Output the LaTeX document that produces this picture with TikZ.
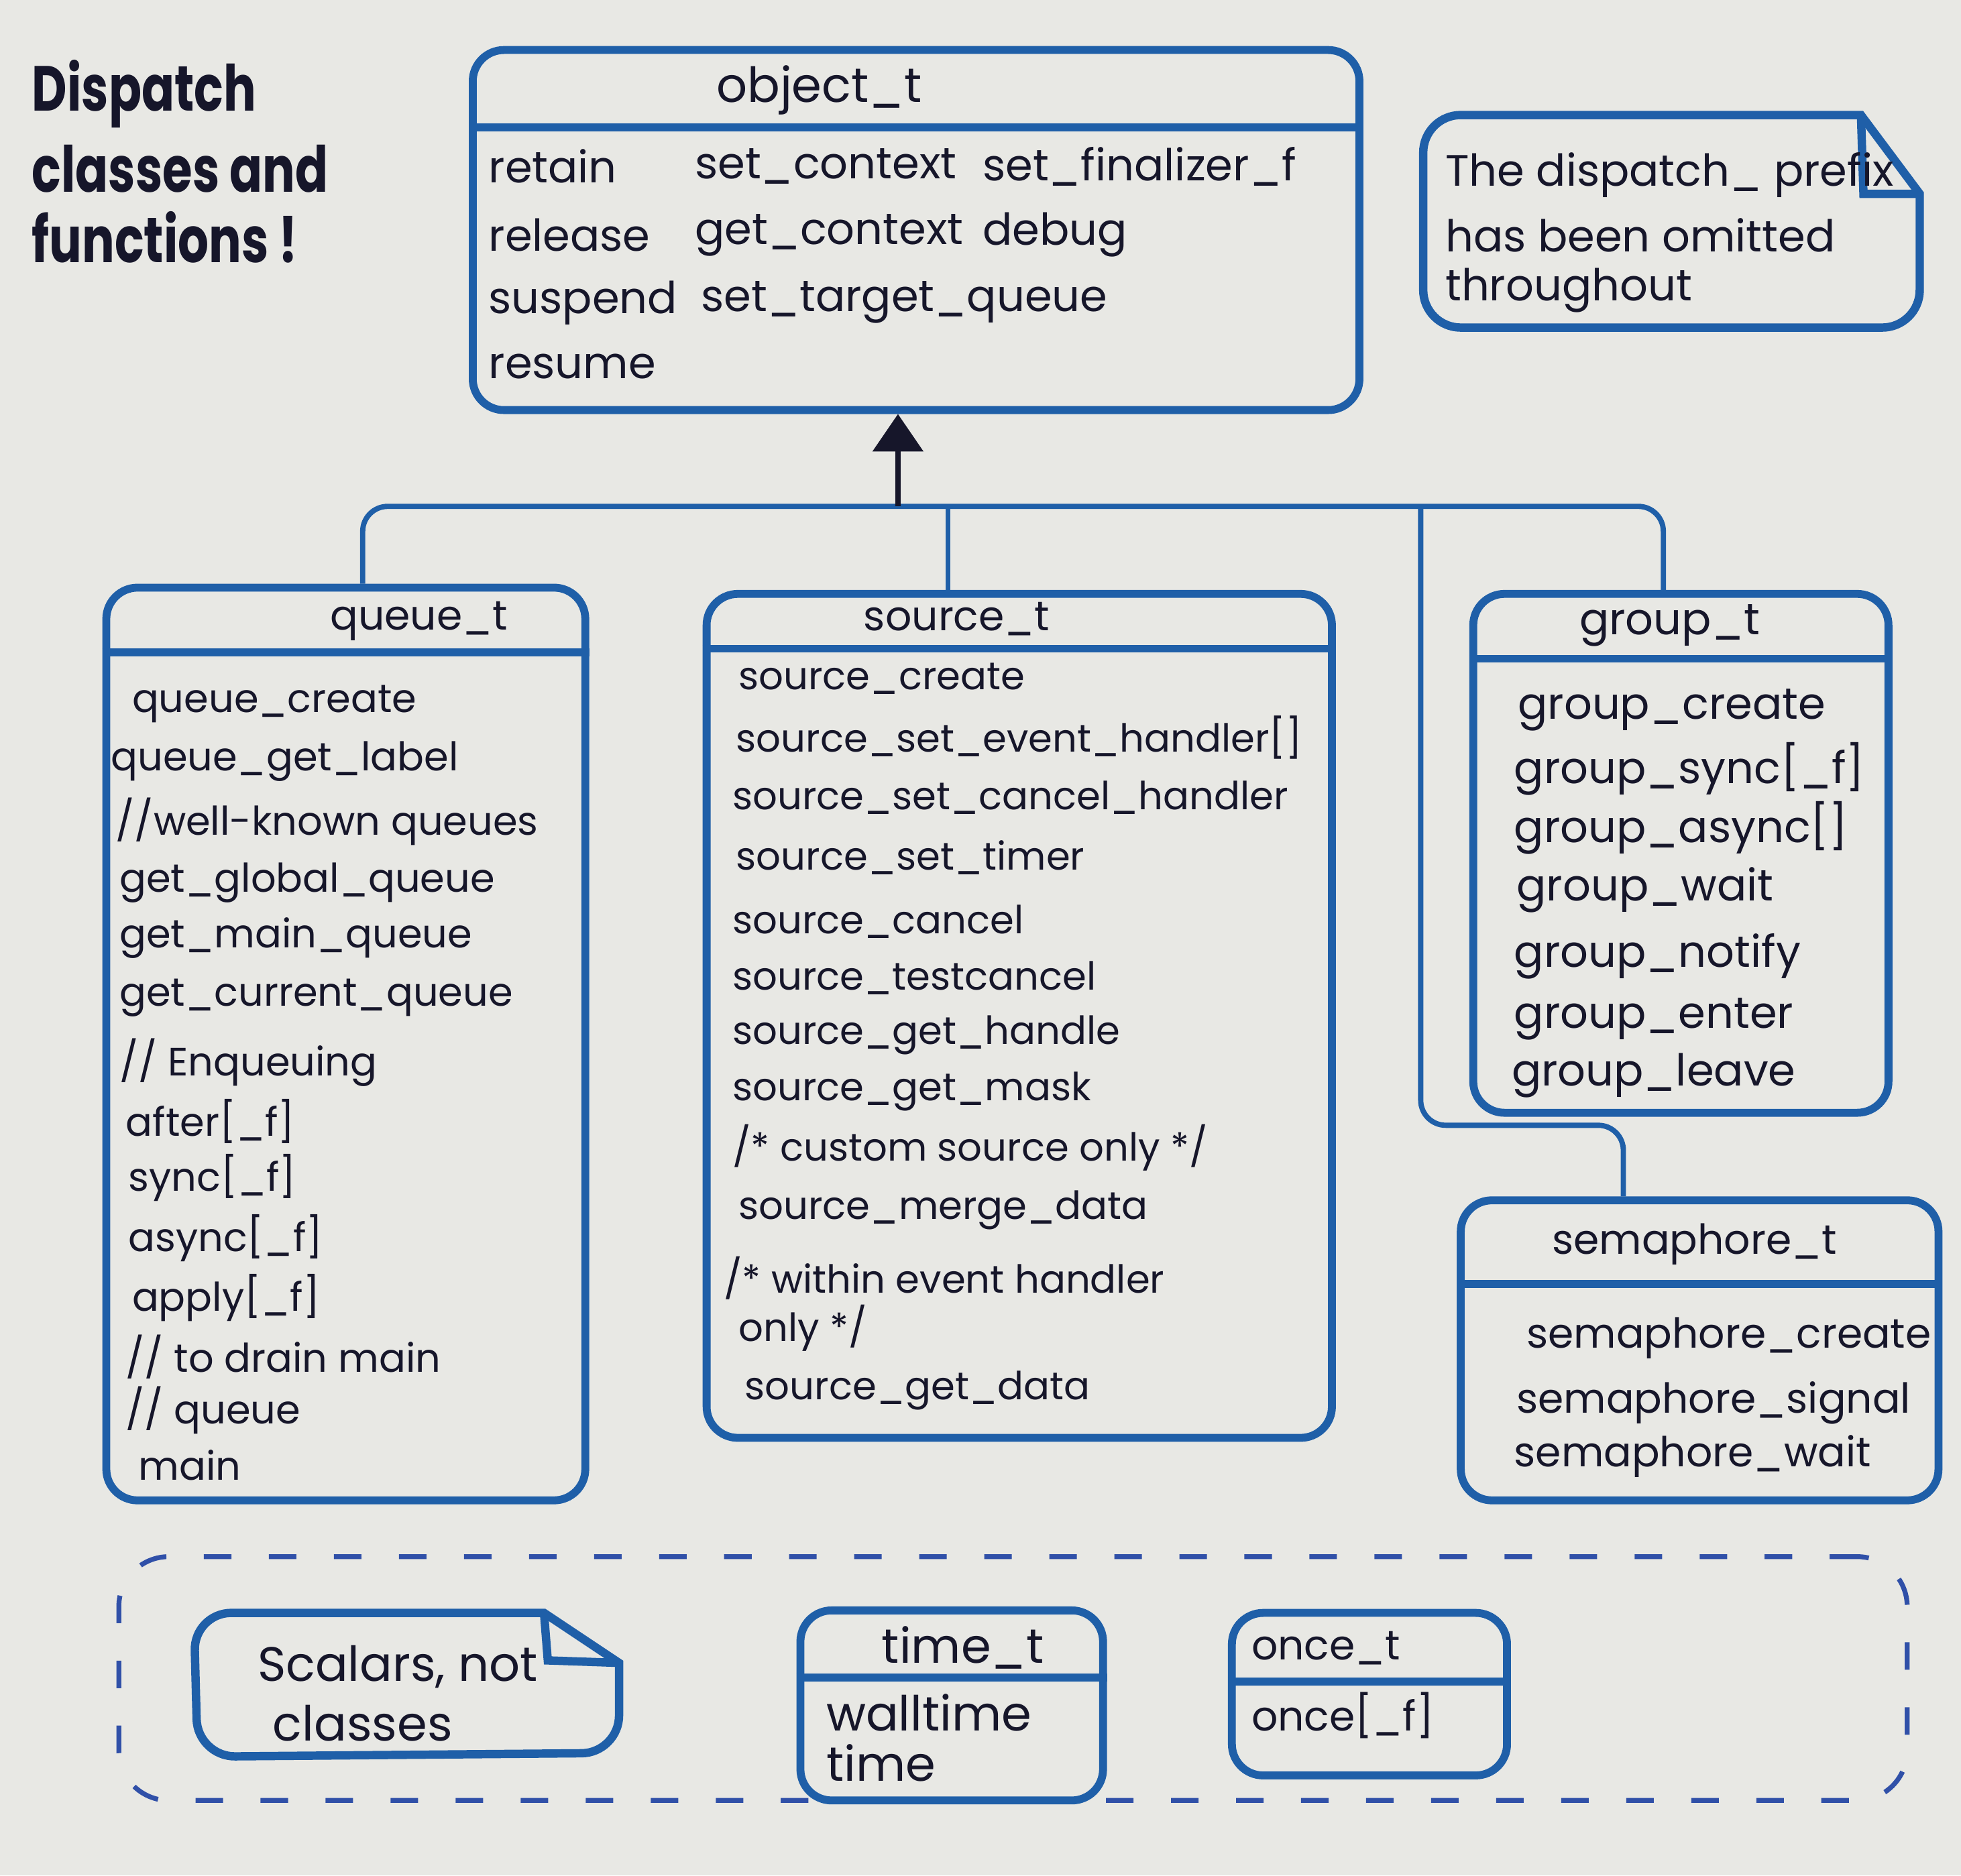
\documentclass[tikz,border=0pt]{standalone}
\usepackage{fontspec}
\usepackage{graphicx}
\setmainfont{Poppins}
\usetikzlibrary{arrows.meta,calc}
\definecolor{pen}{HTML}{1F5FA8}
\definecolor{ink}{HTML}{16162A}
\definecolor{paper}{HTML}{E8E8E4}
\definecolor{dashpen}{HTML}{3050A8}
\newcommand\itemfont{\fontsize{9}{11}\selectfont}
\newcommand\srcfont{\fontsize{8.8}{11}\selectfont}
\newcommand\grpfont{\fontsize{10}{12}\selectfont}
\newcommand\semfont{\fontsize{9.4}{11}\selectfont}
\newcommand\objfont{\fontsize{10}{12}\selectfont}
\newcommand\objtitlefont{\fontsize{11}{13}\selectfont}
\newcommand\notefont{\fontsize{10}{12}\selectfont}
\newcommand\scalfont{\fontsize{11}{13}\selectfont}
\newcommand\bigfont{\fontsize{14.5}{16}\selectfont\bfseries}
\begin{document}
\begin{tikzpicture}[x=0.1mm,y=-0.1mm,
  umlbox/.style={draw=pen, line width=1.8pt, rounded corners=2.5mm, inner sep=0pt},
  sepline/.style={draw=pen, line width=1.8pt},
  notepen/.style={draw=pen, line width=1.9pt},
  conn/.style={draw=pen, line width=1.2pt, rounded corners=2mm},
  item/.style={anchor=west, inner sep=0pt, text=ink, font=\itemfont},
  ttl/.style={anchor=center, inner sep=0pt, text=ink, font=\itemfont},
  bigitem/.style={anchor=west, inner sep=0pt, text=ink, font=\bigfont},
  dashregion/.style={draw=dashpen, line width=1.1pt, dash pattern=on 2.2mm off 3mm, rounded corners=4mm, inner sep=0pt}]
\useasboundingbox (0,0) rectangle (1568,1500);
\fill[paper] (0,0) rectangle (1568,1500);

% title
\node[bigitem] (t1) at (25,75) {\scalebox{0.76}[1]{Dispatch}};
\node[bigitem] (t2) at (25,135) {\scalebox{0.76}[1]{classes and}};
\node[bigitem] (t3) at (25,190) {\scalebox{0.76}[1]{functions !}};

% object_t
\node[umlbox, minimum width=70.9mm, minimum height=28.8mm] (object) at (732.5,184) {};
\draw[sepline] ($(object.north west)+(0,65)$) -- ($(object.north east)+(0,65)$);
\node[ttl, font=\objtitlefont] (objt) at (655,72) {object\_t};
\begin{scope}[every node/.style={item, font=\objfont}]
\node (o1) at (390,133) {retain};
\node (o2) at (555,133) {set\_context};
\node (o3) at (785,133) {set\_finalizer\_f};
\node (o4) at (390,188) {release};
\node (o5) at (555,188) {get\_context};
\node (o6) at (785,188) {debug};
\node (o7) at (390,242) {suspend};
\node (o8) at (560,242) {set\_target\_queue};
\node (o9) at (390,293) {resume};
\end{scope}

% note
\draw[notepen] (1488,92) [rounded corners=3mm] -- (1138,92) -- (1138,262) -- (1535,262) [sharp corners] -- (1535,155) -- cycle;
\draw[notepen] (1488,92) -- (1490,155) -- (1535,155);
\begin{scope}[every node/.style={item, font=\notefont}]
\node (n1) at (1155,140) {The dispatch\_ prefix};
\node (n2) at (1155,188) {has been omitted};
\node (n3) at (1155,232) {throughout};
\end{scope}

% queue_t
\node[umlbox, minimum width=38.3mm, minimum height=73mm] (queue) at (276.5,835) {};
\draw[sepline] ($(queue.north west)+(0,55)$) -- ($(queue.north east)+(0,55)$);
\node[ttl, font=\semfont] (queuet) at (335,497) {queue\_t};
\node[item] (q1) at (105,563) {queue\_create};
\node[item] (q2) at (88,609) {queue\_get\_label};
\node[item] (q3) at (92,657) {//well-known queues};
\node[item] (q4) at (95,706) {get\_global\_queue};
\node[item] (q5) at (95,750) {get\_main\_queue};
\node[item] (q6) at (95,798) {get\_current\_queue};
\node[item] (q7) at (95,850) {// Enqueuing};
\node[item] (q8) at (100,897) {after[\_f]};
\node[item] (q9) at (102,942) {sync[\_f]};
\node[item] (q10) at (102,990) {async[\_f]};
\node[item] (q11) at (105,1038) {apply[\_f]};
\node[item] (q12) at (100,1085) {// to drain main};
\node[item] (q13) at (100,1128) {// queue};
\node[item] (q14) at (110,1172) {main};

% source_t
\node[umlbox, minimum width=50mm, minimum height=67.5mm] (source) at (815,812.5) {};
\draw[sepline] ($(source.north west)+(0,47)$) -- ($(source.north east)+(0,47)$);
\node[ttl, font=\semfont] (sourcet) at (765,495) {source\_t};
\begin{scope}[every node/.style={item, font=\srcfont}]
\node (s1) at (590,543) {source\_create};
\node (s2) at (588,590) {source\_set\_event\_handler[]};
\node (s3) at (585,638) {source\_set\_cancel\_handler};
\node (s4) at (588,686) {source\_set\_timer};
\node (s5) at (585,737) {source\_cancel};
\node (s6) at (585,782) {source\_testcancel};
\node (s7) at (585,828) {source\_get\_handle};
\node (s8) at (585,873) {source\_get\_mask};
\node (s9) at (585,918) {/* custom source only */};
\node (s10) at (590,968) {source\_merge\_data};
\node (s11) at (578,1022) {/* within event handler};
\node (s12) at (590,1062) {only */};
\node (s13) at (595,1112) {source\_get\_data};
\end{scope}

% group_t
\node[umlbox, minimum width=33.2mm, minimum height=41.5mm] (group) at (1344,682.5) {};
\draw[sepline] ($(group.north west)+(0,55)$) -- ($(group.north east)+(0,55)$);
\node[ttl, font=\grpfont] (groupt) at (1335,500) {group\_t};
\begin{scope}[every node/.style={item, font=\grpfont}]
\node (g1) at (1213,568) {group\_create};
\node (g2) at (1210,615) {group\_sync[\_f]};
\node (g3) at (1210,662) {group\_async[]};
\node (g4) at (1212,712) {group\_wait};
\node (g5) at (1210,765) {group\_notify};
\node (g6) at (1210,815) {group\_enter};
\node (g7) at (1208,860) {group\_leave};
\end{scope}

% semaphore_t
\node[umlbox, minimum width=38.2mm, minimum height=24mm] (semaphore) at (1359,1080) {};
\draw[sepline] ($(semaphore.north west)+(0,70)$) -- ($(semaphore.north east)+(0,70)$);
\node[ttl, font=\semfont] (semt) at (1355,995) {semaphore\_t};
\begin{scope}[every node/.style={item, font=\semfont}]
\node (m1) at (1220,1070) {semaphore\_create};
\node (m2) at (1212,1122) {semaphore\_signal};
\node (m3) at (1210,1165) {semaphore\_wait};
\end{scope}

% connectors
\coordinate (hub) at (718,405);
\coordinate (busL) at (290,405);
\coordinate (busS) at (758,405);
\coordinate (busM) at (1136,405);
\coordinate (busR) at (1330,405);
\coordinate (semc) at (1136,900);
\coordinate (semx) at (1298,900);
\draw[conn] (queue.north -| busL) -- (busL) -- (busR) -- (group.north -| busR);
\draw[conn] (busS) -- (source.north -| busS);
\draw[conn] (busM) -- (semc) -- (semx) -- (semaphore.north -| semx);
\draw[ink, line width=1.1pt, -{Triangle[width=4mm,length=3mm]}] (hub) -- (hub |- object.south);

% scalars region
\node[dashregion, minimum width=143mm, minimum height=19.5mm] (scalars) at (810,1342.5) {};
\draw[notepen] (435,1290) [rounded corners=3mm] -- (155,1290) -- (158,1405) -- (495,1402) [sharp corners] -- (495,1330) -- cycle;
\draw[notepen] (435,1290) -- (438,1328) -- (495,1330);
\node[ttl, font=\scalfont] (sc1) at (318,1333) {Scalars, not};
\node[ttl, font=\scalfont] (sc2) at (290,1378) {classes};

\node[umlbox, minimum width=24.2mm, minimum height=15.2mm] (time) at (761,1364) {};
\draw[sepline] ($(time.north west)+(0,57)$) -- ($(time.north east)+(0,57)$);
\node[ttl, font=\scalfont] (timet) at (770,1318) {time\_t};
\node[item, font=\scalfont] (w1) at (660,1370) {walltime};
\node[item, font=\scalfont] (w2) at (660,1410) {time};

\node[umlbox, minimum width=22mm, minimum height=13mm] (once) at (1095,1355) {};
\draw[sepline] ($(once.north west)+(0,58)$) -- ($(once.north east)+(0,58)$);
\node[item, font=\semfont] (oncet) at (1000,1318) {once\_t};
\node[item, font=\semfont] (o10) at (1000,1372) {once[\_f]};
\end{tikzpicture}
\end{document}
